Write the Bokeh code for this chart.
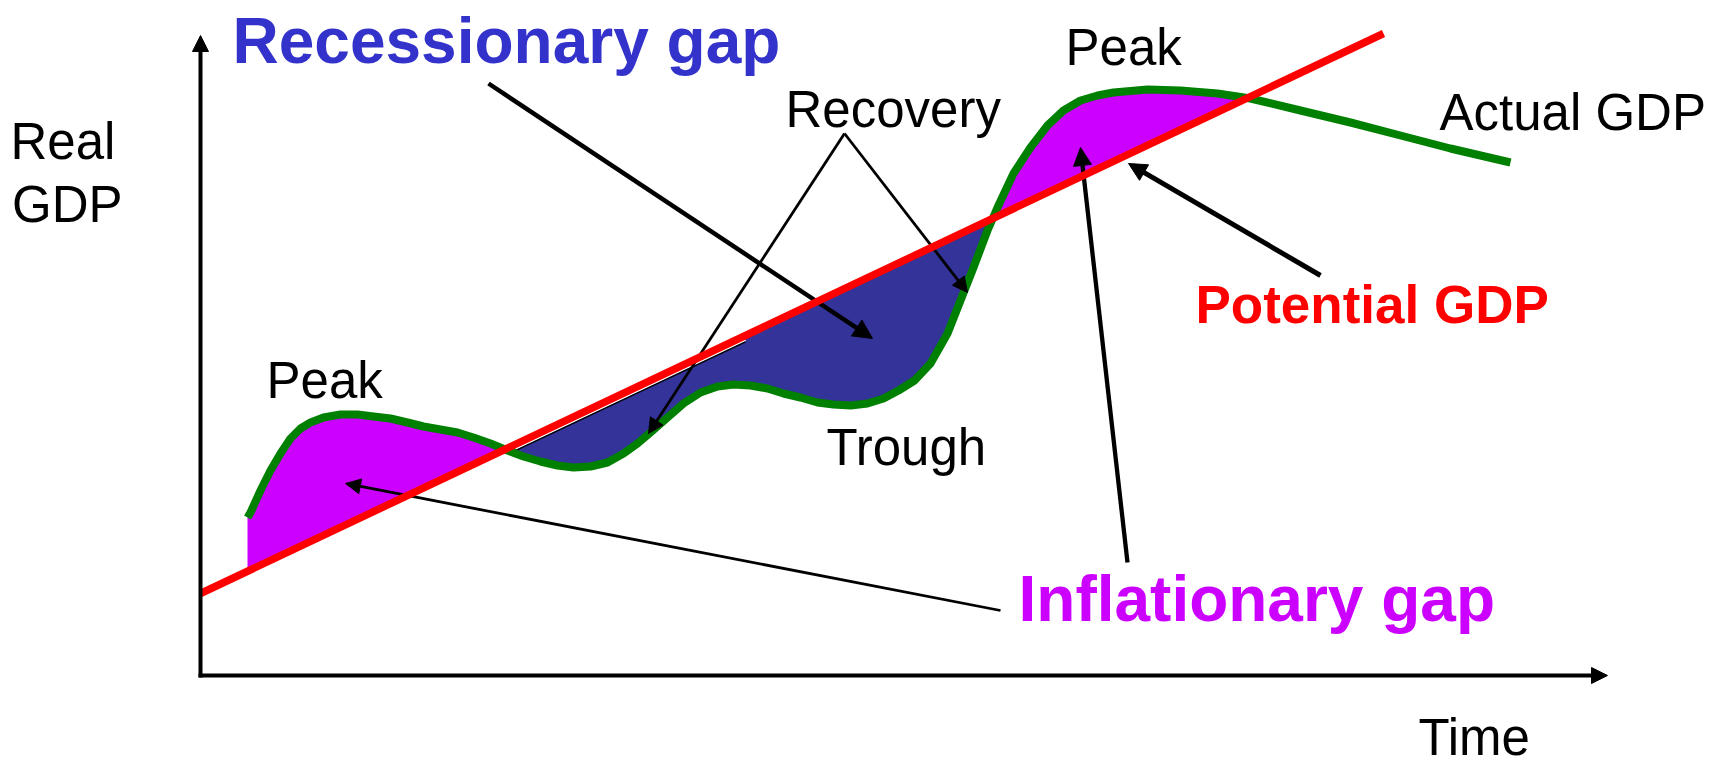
import numpy as np
from bokeh.plotting import figure
from bokeh.models import Range1d, Arrow, NormalHead, ColumnDataSource
from bokeh.core.properties import value
from bokeh.embed import file_html
from bokeh.resources import INLINE

# ---------------- data (time, real GDP) in chart units ----------------
actual_time = [4.7, 5.0, 6.0, 7.0, 8.0, 9.0, 10.0, 11.0, 12.3, 14.0, 15.7, 17.3, 19.0,
               20.7, 22.3, 24.0, 25.7, 27.3, 29.0, 30.7, 32.3, 34.0, 35.7, 37.3,
               39.0, 40.7, 42.3, 43.7, 45.0, 46.7, 48.3, 50.0, 51.7, 53.3, 55.0,
               56.7, 58.3, 60.0, 61.7, 63.3, 65.0, 66.7, 68.3, 69.8, 71.4, 73.0,
               74.7, 76.0, 77.3, 78.7, 79.7, 81.3, 83.0, 84.7, 86.3, 88.0, 89.7,
               91.3, 94.7, 98.0, 101.7, 105.0, 110.0, 115.0, 120.0, 125.0, 131.0]
actual_gdp = [15.8, 16.3, 18.5, 20.5, 22.2, 23.7, 24.7, 25.3, 25.8, 26.1, 26.1, 25.9, 25.7,
              25.3, 24.9, 24.6, 24.3, 23.8, 23.2, 22.5, 21.9, 21.4, 21.0, 20.8,
              20.9, 21.3, 22.2, 23.2, 24.3, 25.8, 27.2, 28.3, 28.9, 29.1, 29.0,
              28.7, 28.2, 27.8, 27.3, 27.1, 27.0, 27.2, 27.7, 28.5, 29.5, 31.2,
              34.2, 37.5, 40.8, 44.5, 46.8, 50.2, 52.8, 55.0, 56.5, 57.5, 58.0,
              58.3, 58.6, 58.5, 58.2, 57.7, 56.5, 55.3, 54.0, 52.7, 51.3]
potential_time = [0.0, 118.3]
potential_gdp = [8.2, 64.2]

# axes (origin -> arrow tip)
axis_x0, axis_x1 = [-0.2, 0.0], [140.7, 0.0]
axis_y0, axis_y1 = [0.0, -0.2], [0.0, 64.0]

# annotation arrows: tail -> tip
arrow_names = ["recessionary", "recovery_l", "recovery_r", "inflation_l", "inflation_up", "potential"]
arrow_tail_t = [28.8, 64.4, 64.4, 80.0, 92.7, 112.0]
arrow_tail_g = [59.2, 54.2, 54.2, 6.5, 11.3, 40.0]
arrow_tip_t = [67.2, 44.8, 76.7, 14.5, 88.0, 92.8]
arrow_tip_g = [33.7, 24.2, 38.3, 19.2, 52.8, 51.2]
arrow_width = [4.5, 2.8, 2.8, 2.8, 4.3, 5.0]
arrow_head = [19, 15, 15, 15, 18, 18]

# labels (baseline positions)
plain_text = ["Real", "GDP", "Peak", "Recovery", "Peak", "Trough", "Actual GDP", "Time"]
plain_t = [-19.0, -18.85, 6.6, 58.5, 86.5, 62.6, 123.9, 121.8]
plain_g = [51.8, 45.5, 27.9, 55.0, 61.2, 21.2, 54.7, -7.8]

bold_text = ["Recessionary gap", "Potential GDP", "Inflationary gap"]
bold_t = [3.2, 99.5, 81.8]
bold_g = [61.5, 35.5, 5.7]
bold_color = ["#3333CC", "#FF0000", "#CC00FF"]
bold_px = [64, 53, 64]

# ---------------- figure ----------------
p = figure(width=1730, height=769, output_backend="svg", toolbar_location=None,
           x_range=Range1d(-20.0, 153.0), y_range=Range1d(-9.4, 67.5),
           x_axis_type=None, y_axis_type=None, min_border=0)
p.grid.visible = False
p.outline_line_color = None
p.background_fill_color = "white"
p.border_fill_color = "white"

at = np.array(actual_time, dtype=float)
ag = np.array(actual_gdp, dtype=float)
slope = (potential_gdp[1] - potential_gdp[0]) / (potential_time[1] - potential_time[0])


def potential_at(t):
    return potential_gdp[0] + slope * (np.asarray(t, dtype=float) - potential_time[0])


pot = potential_at(at)

# insert crossing points between actual and potential
ts, gs, ps, crossings = [at[0]], [ag[0]], [pot[0]], []
for i in range(len(at) - 1):
    d0 = ag[i] - pot[i]
    d1 = ag[i + 1] - pot[i + 1]
    if d0 * d1 < 0:
        f = d0 / (d0 - d1)
        tc = at[i] + f * (at[i + 1] - at[i])
        gc = ag[i] + f * (ag[i + 1] - ag[i])
        ts.append(tc); gs.append(gc); ps.append(gc); crossings.append(tc)
    ts.append(at[i + 1]); gs.append(ag[i + 1]); ps.append(pot[i + 1])
ts, gs, ps = np.array(ts), np.array(gs), np.array(ps)

# inflationary gap (actual above potential)
p.varea(x=ts, y1=ps, y2=np.maximum(gs, ps), fill_color="#CC00FF")
# recessionary gap (between first two crossings)
mask = (ts >= crossings[0]) & (ts <= crossings[1])
p.varea(x=ts[mask], y1=np.minimum(gs, ps)[mask], y2=ps[mask], fill_color="#333399")

# thin outline under potential line in the recessionary area
edge_t = np.array([31.5, 54.5])
edge_g = potential_at(edge_t)
p.line(edge_t, edge_g - 0.45, line_color="white", line_width=2)
p.line(edge_t, edge_g - 0.63, line_color="black", line_width=1.4)

# actual GDP
p.line(actual_time, actual_gdp, line_color="#008000", line_width=8, line_join="round")


def shaft_end(t0, g0, t1, g1, head):
    dx, dy = t1 - t0, g1 - g0
    L = np.hypot(dx, dy)
    back = head * 0.6 / 10.0
    return t1 - dx / L * back, g1 - dy / L * back


# arrow shafts (under the potential line)
for i in range(len(arrow_names)):
    te, ge = shaft_end(arrow_tail_t[i], arrow_tail_g[i], arrow_tip_t[i], arrow_tip_g[i], arrow_head[i])
    p.line([arrow_tail_t[i], te], [arrow_tail_g[i], ge], line_color="black", line_width=arrow_width[i])

# potential GDP
p.line(potential_time, potential_gdp, line_color="#FF0000", line_width=7.5)

# arrow heads
for i in range(len(arrow_names)):
    p.add_layout(Arrow(end=NormalHead(size=arrow_head[i], fill_color="black", line_color="black", line_width=1),
                       x_start=arrow_tail_t[i], y_start=arrow_tail_g[i],
                       x_end=arrow_tip_t[i], y_end=arrow_tip_g[i], line_alpha=0))

# axes
for s, e in [((axis_x0[0], axis_x0[1]), (axis_x1[0], axis_x1[1])), ((axis_y0[0], axis_y0[1]), (axis_y1[0], axis_y1[1]))]:
    te, ge = shaft_end(s[0], s[1], e[0], e[1], 16)
    p.line([s[0], te], [s[1], ge], line_color="black", line_width=4)
    p.add_layout(Arrow(end=NormalHead(size=16, fill_color="black", line_color="black", line_width=1),
                       x_start=s[0], y_start=s[1], x_end=e[0], y_end=e[1], line_alpha=0))

# labels (compensate renderer baseline offset: ~0.31 em, 10 px per unit)
SHIFT_EM = 0.31
plain_px = 51
p.text(x=plain_t, y=[g + SHIFT_EM * plain_px / 10.0 for g in plain_g], text=plain_text,
       text_font=value("Liberation Sans"), text_font_size=value(f"{plain_px}px"),
       text_baseline="alphabetic", text_align="left", text_color="black")
bsrc = ColumnDataSource(dict(x=bold_t, y=[g + SHIFT_EM * s / 10.0 for g, s in zip(bold_g, bold_px)],
                             text=bold_text, color=bold_color, size=[f"{s}px" for s in bold_px]))
p.text(x="x", y="y", text="text", source=bsrc, text_font=value("Liberation Sans"),
       text_font_size="size", text_font_style="bold", text_baseline="alphabetic",
       text_align="left", text_color="color")

open("out.html", "w").write(file_html(p, INLINE))
